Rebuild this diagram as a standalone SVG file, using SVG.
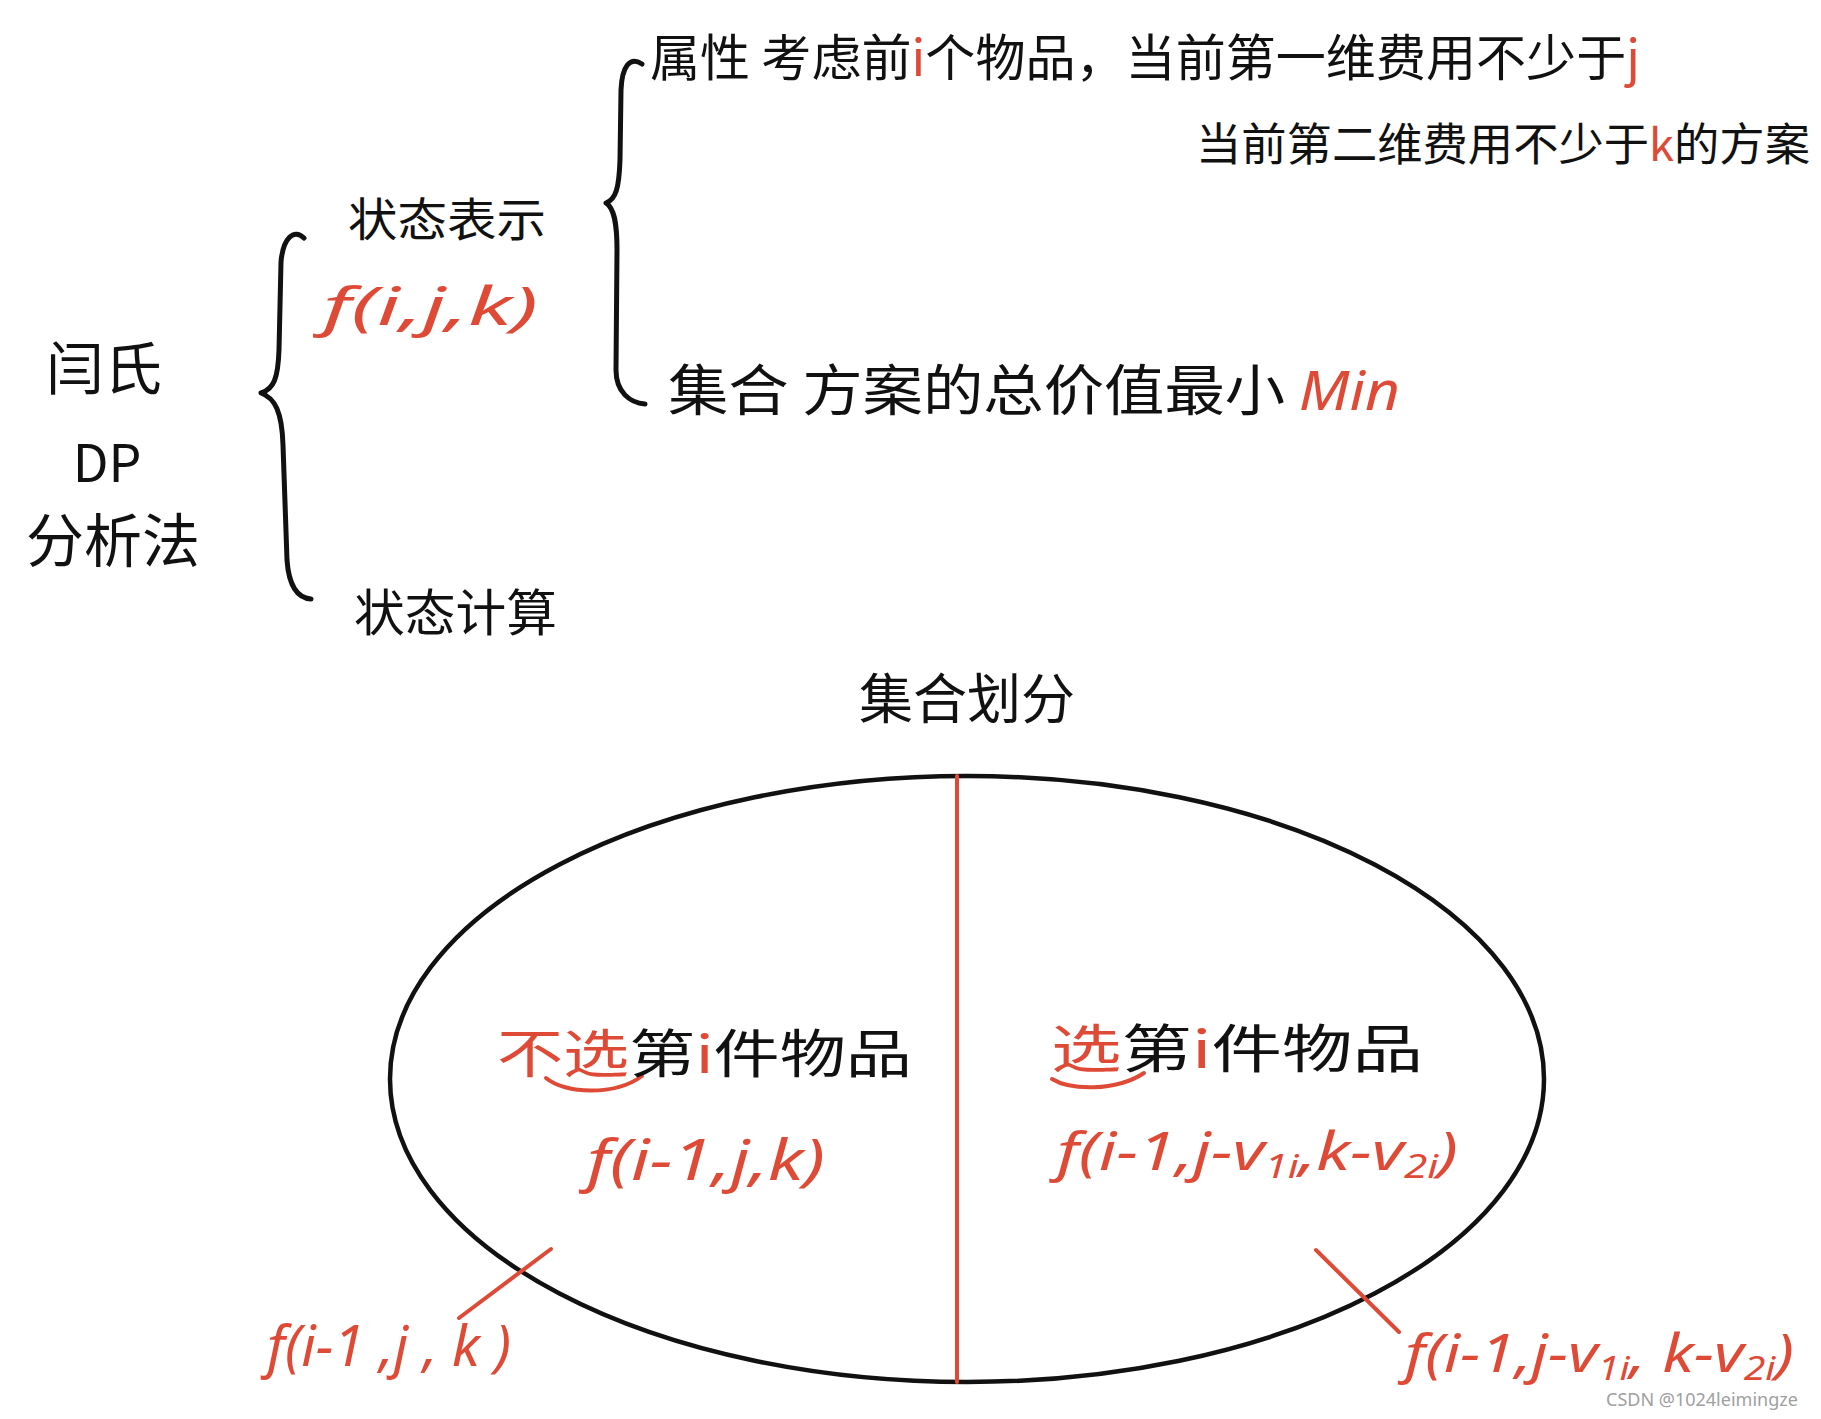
<svg xmlns="http://www.w3.org/2000/svg" width="1821" height="1419" viewBox="0 0 1821 1419">
<style>
text{font-family:"Noto Sans CJK SC","Noto Sans",sans-serif;fill:#111;}
.r{fill:#df4a36;}
.m{font-family:"Noto Sans","Noto Sans CJK SC",sans-serif;fill:#df4a36;}
.br{fill:none;stroke:#111;stroke-width:5;stroke-linecap:round;stroke-linejoin:round;}
.rl{fill:none;stroke:#df4a36;stroke-width:4;stroke-linecap:round;}
.wm{font-family:"Noto Sans",sans-serif;fill:#a0a0a0;font-size:18px;}
</style>
<rect width="1821" height="1419" fill="#fff"/>
<g id="connectors">
<path class="br" d="M304 238 C294 228,283 238,281 262 L279 350 C278 378,274 389,261 393 C275 398,282 412,283 445 L287 560 C289 588,298 598,311 599"/>
<path class="br" d="M642 64 C630 56,622 66,621 90 L620 160 C619 188,616 199,606 203 C614 208,617 222,617 250 L616 370 C616 392,630 403,645 404"/>
<ellipse cx="967" cy="1079" rx="577" ry="303" fill="none" stroke="#111" stroke-width="4.5"/>
<line class="rl" x1="957" y1="776" x2="957" y2="1382"/>
<line class="rl" x1="551" y1="1249" x2="459" y2="1318"/>
<line class="rl" x1="1316" y1="1250" x2="1399" y2="1332"/>
<path class="rl" d="M546 1078 C565 1094,615 1096,642 1076"/>
<path class="rl" d="M1052 1079 C1070 1090,1115 1092,1144 1073"/>
</g>
<g id="title-left">
<text x="104" y="390" font-size="58" text-anchor="middle">闫氏</text>
<text x="107" y="482" font-size="52" text-anchor="middle" font-family="Noto Sans">DP</text>
<text x="113" y="562" font-size="58" text-anchor="middle">分析法</text>
</g>
<g id="state-repr">
<text x="348" y="236" font-size="46" textLength="198" lengthAdjust="spacingAndGlyphs">状态表示</text>
<text class="m" x="323" y="325" font-size="52" font-style="italic" textLength="215" lengthAdjust="spacingAndGlyphs">f(i,j,k)</text>
</g>
<g id="attribute">
<text x="650" y="76" font-size="50" textLength="990" lengthAdjust="spacingAndGlyphs">属性 考虑前<tspan class="r">i</tspan>个物品，当前第一维费用不少于<tspan class="r">j</tspan></text>
<text x="1196" y="161" font-size="45" textLength="614" lengthAdjust="spacingAndGlyphs">当前第二维费用不少于<tspan class="r">k</tspan>的方案</text>
</g>
<g id="set">
<text x="668" y="410" font-size="55" textLength="732" lengthAdjust="spacingAndGlyphs">集合 方案的总价值最小 <tspan class="r" font-family="Noto Sans" font-style="italic">Min</tspan></text>
</g>
<g id="state-calc">
<text x="354" y="631" font-size="50" textLength="203" lengthAdjust="spacingAndGlyphs">状态计算</text>
</g>
<g id="partition">
<text x="967" y="719" font-size="54" text-anchor="middle">集合划分</text>
</g>
<g id="not-choose">
<text x="497" y="1073" font-size="52" textLength="415" lengthAdjust="spacingAndGlyphs"><tspan class="r">不选</tspan>第<tspan class="r">i</tspan>件物品</text>
<text class="m" x="587" y="1180" font-size="56" font-style="italic" textLength="238" lengthAdjust="spacingAndGlyphs">f(i-1,j,k)</text>
</g>
<g id="choose">
<text x="1051" y="1068" font-size="52" textLength="372" lengthAdjust="spacingAndGlyphs"><tspan class="r">选</tspan>第<tspan class="r">i</tspan>件物品</text>
<text class="m" x="1057" y="1170" font-size="52" font-style="italic" textLength="401" lengthAdjust="spacingAndGlyphs">f(i-1,j-v<tspan font-size="32" dy="8">1i</tspan><tspan dy="-8">,k-v</tspan><tspan font-size="32" dy="8">2i</tspan><tspan dy="-8">)</tspan></text>
</g>
<g id="label-not-choose">
<text class="m" x="267" y="1366" font-size="56" font-style="italic" textLength="244" lengthAdjust="spacingAndGlyphs">f(i-1 ,j , k )</text>
</g>
<g id="label-choose">
<text class="m" x="1405" y="1372" font-size="52" font-style="italic" textLength="389" lengthAdjust="spacingAndGlyphs">f(i-1,j-v<tspan font-size="32" dy="8">1i</tspan><tspan dy="-8">, k-v</tspan><tspan font-size="32" dy="8">2i</tspan><tspan dy="-8">)</tspan></text>
</g>
<text class="wm" x="1606" y="1406">CSDN @1024leimingze</text>
</svg>
